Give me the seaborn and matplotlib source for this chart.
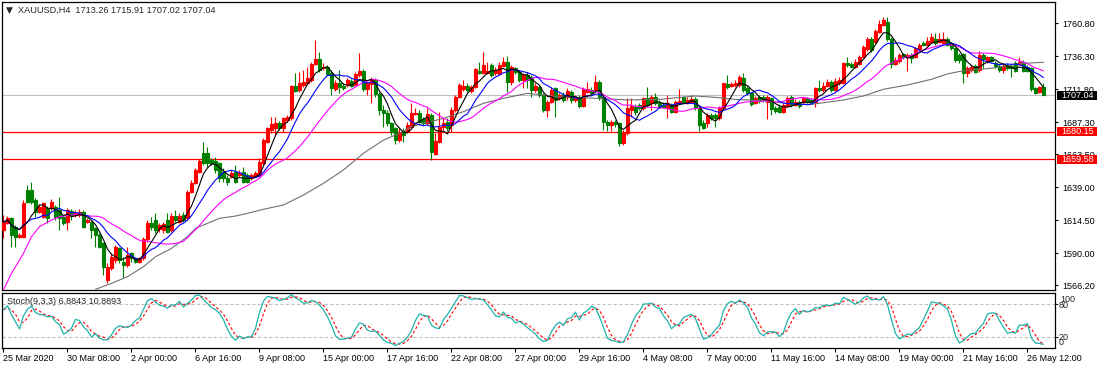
import numpy as np
import pandas as pd
import matplotlib
matplotlib.use("Agg")
import matplotlib.pyplot as plt
import matplotlib.transforms as mtransforms
from matplotlib.patches import Rectangle
import seaborn as sns

sns.set_style("white")
plt.rcParams["font.family"] = ["Liberation Sans", "DejaVu Sans"]

# XAUUSD H4 candles (bar 0 = 25 Mar 2020 00:00)
opens = [
    1607.1, 1612.6, 1615.8, 1609.6, 1601.7, 1602.2, 1636.8, 1636.8, 1629.4, 1620.7,
    1617.0, 1623.2, 1623.2, 1624.5, 1622.0, 1617.0, 1613.3, 1621.5, 1618.3, 1618.3,
    1620.7, 1613.3, 1613.3, 1608.4, 1603.4, 1597.2, 1570.0, 1578.7, 1584.9, 1593.5,
    1583.6, 1581.2, 1589.8, 1586.1, 1583.6, 1586.1, 1600.2, 1612.6, 1614.6, 1607.6,
    1607.1, 1614.6, 1607.1, 1617.5, 1613.3, 1618.3, 1615.8, 1635.6, 1642.3, 1650.4,
    1664.5, 1664.5, 1659.1, 1658.6, 1656.6, 1650.4, 1645.5, 1646.7, 1650.4, 1647.9,
    1650.4, 1647.9, 1645.5, 1647.2, 1647.9, 1656.6,
    1672.7, 1681.4, 1682.6, 1686.3, 1682.6, 1688.8, 1690.0, 1714.0, 1711.1, 1714.8,
    1716.0, 1718.5, 1730.4, 1733.8, 1727.2, 1728.4, 1723.5, 1711.6, 1716.5, 1714.0,
    1714.8, 1718.0, 1714.8, 1722.2, 1725.4, 1711.6, 1715.5, 1718.5, 1708.1, 1696.2,
    1693.8, 1686.3, 1682.6, 1673.9, 1680.9, 1680.1, 1683.9, 1693.3, 1693.8, 1689.3,
    1686.3, 1692.5, 1663.6, 1672.7, 1683.4, 1687.6, 1685.1, 1696.2, 1706.1, 1711.6,
    1714.0, 1710.6, 1713.1, 1725.4, 1723.9, 1723.9, 1729.6, 1723.5, 1723.0, 1728.9,
    1732.1, 1717.3, 1727.2, 1724.7, 1718.5, 1722.2,
    1720.5, 1711.1, 1713.1, 1707.4, 1696.2, 1702.4, 1712.3, 1704.9, 1707.4, 1705.6,
    1709.8, 1703.7, 1706.1, 1699.2, 1709.8, 1711.1, 1711.1, 1717.3, 1706.1, 1687.6,
    1685.1, 1687.6, 1686.3, 1671.5, 1678.9, 1696.2, 1698.7, 1699.9, 1697.5, 1704.9,
    1701.2, 1706.1, 1701.2, 1699.9, 1697.5, 1699.9, 1695.0, 1701.2, 1705.6, 1701.7,
    1702.4, 1704.1, 1697.5, 1686.3, 1686.3, 1692.5, 1692.5, 1690.0, 1697.5, 1715.5,
    1714.0, 1714.8, 1714.8, 1719.7, 1712.3, 1708.6, 1701.7, 1705.6, 1705.6, 1702.4,
    1704.9, 1697.5, 1698.7, 1695.0, 1699.2, 1705.6,
    1699.9, 1702.4, 1702.4, 1704.9, 1703.7, 1702.4, 1712.3, 1711.1, 1714.0, 1717.3,
    1711.1, 1716.0, 1716.5, 1731.4, 1730.4, 1728.4, 1730.4, 1735.3, 1741.3, 1748.7,
    1747.0, 1754.4, 1759.3, 1761.8, 1748.7, 1730.4, 1732.9, 1737.8, 1735.3, 1737.1,
    1735.3, 1741.3, 1746.2, 1744.5, 1747.0, 1748.7, 1747.0, 1746.2, 1748.7, 1746.2,
    1742.0, 1737.1, 1737.8, 1723.9, 1725.9, 1728.9, 1725.9, 1737.1, 1733.4, 1735.3,
    1731.4, 1728.9, 1725.9, 1729.6, 1728.9, 1731.4, 1730.4, 1732.1, 1728.4, 1727.2,
    1712.3, 1709.8, 1713.26,
]
highs = [
    1618.3, 1617.5, 1617.0, 1610.8, 1604.7, 1629.4, 1640.5, 1643.0, 1630.6, 1626.4,
    1628.2, 1625.0, 1629.9, 1625.7, 1631.9, 1618.3, 1623.2, 1622.5, 1622.0, 1622.5,
    1622.0, 1615.8, 1614.6, 1609.6, 1604.7, 1598.5, 1582.4, 1589.8, 1596.0, 1594.8,
    1587.3, 1594.8, 1591.0, 1587.3, 1587.3, 1601.7, 1614.6, 1617.0, 1619.5, 1612.6,
    1613.3, 1619.5, 1619.5, 1622.0, 1619.5, 1620.7, 1636.8, 1644.3, 1652.9, 1659.6,
    1672.7, 1669.0, 1660.3, 1661.5, 1657.9, 1652.9, 1647.9, 1651.7, 1655.4, 1651.7,
    1654.1, 1649.2, 1649.2, 1651.2, 1660.3, 1675.2,
    1683.9, 1691.3, 1691.3, 1688.3, 1691.3, 1692.5, 1714.8, 1723.5, 1724.7, 1725.9,
    1728.4, 1732.1, 1748.2, 1739.5, 1730.9, 1729.6, 1725.9, 1718.5, 1725.9, 1716.0,
    1719.7, 1719.0, 1724.7, 1738.8, 1726.4, 1717.3, 1720.5, 1719.7, 1709.8, 1699.9,
    1696.2, 1687.6, 1683.9, 1682.6, 1682.6, 1687.6, 1701.7, 1697.5, 1696.2, 1691.3,
    1697.5, 1693.8, 1678.9, 1695.0, 1690.0, 1690.0, 1698.7, 1707.4, 1716.0, 1718.5,
    1716.0, 1714.8, 1727.2, 1732.1, 1739.5, 1732.1, 1730.9, 1728.4, 1732.1, 1735.8,
    1736.3, 1729.6, 1728.4, 1725.9, 1723.9, 1724.7,
    1722.2, 1716.0, 1714.8, 1708.6, 1703.7, 1713.1, 1713.6, 1709.1, 1709.8, 1712.3,
    1711.1, 1707.4, 1707.4, 1713.1, 1717.3, 1713.1, 1722.2, 1718.5, 1707.4, 1688.8,
    1688.8, 1688.8, 1687.6, 1681.4, 1704.9, 1704.9, 1700.7, 1701.2, 1706.1, 1713.1,
    1707.4, 1708.6, 1703.7, 1702.4, 1707.4, 1701.2, 1703.7, 1711.6, 1706.6, 1706.1,
    1707.4, 1705.6, 1698.7, 1688.8, 1693.8, 1693.8, 1693.8, 1699.2, 1716.5, 1722.2,
    1717.3, 1718.5, 1722.2, 1723.9, 1714.0, 1709.8, 1706.6, 1707.4, 1707.4, 1707.4,
    1706.1, 1699.2, 1700.7, 1701.2, 1706.6, 1707.4,
    1704.1, 1703.7, 1706.1, 1706.1, 1704.9, 1713.6, 1718.5, 1717.3, 1719.0, 1718.5,
    1719.7, 1720.9, 1732.1, 1735.8, 1732.1, 1733.8, 1737.1, 1744.5, 1750.2, 1750.2,
    1756.1, 1763.0, 1765.5, 1765.0, 1750.2, 1735.3, 1738.8, 1738.8, 1738.3, 1738.3,
    1743.3, 1746.2, 1747.7, 1750.7, 1753.2, 1753.2, 1753.2, 1754.4, 1750.2, 1747.0,
    1743.3, 1738.3, 1738.8, 1728.9, 1729.6, 1730.4, 1740.3, 1738.3, 1736.3, 1736.3,
    1732.9, 1730.4, 1730.4, 1731.4, 1730.4, 1732.6, 1735.3, 1733.4, 1729.6, 1728.4,
    1713.6, 1714.0, 1715.91,
]
lows = [
    1600.9, 1611.6, 1594.8, 1594.8, 1600.9, 1601.7, 1626.9, 1626.4, 1617.0, 1619.5,
    1615.8, 1612.1, 1622.0, 1614.6, 1607.1, 1610.8, 1607.1, 1614.6, 1617.0, 1617.0,
    1608.4, 1612.1, 1600.9, 1594.8, 1593.5, 1573.7, 1567.5, 1577.4, 1582.4, 1582.4,
    1571.2, 1579.9, 1583.6, 1582.4, 1582.4, 1584.9, 1598.5, 1607.1, 1604.7, 1605.9,
    1604.7, 1604.7, 1605.9, 1613.3, 1612.1, 1613.3, 1614.6, 1634.4, 1641.3, 1649.2,
    1655.4, 1654.1, 1655.4, 1649.2, 1643.0, 1643.0, 1640.5, 1645.5, 1641.8, 1646.7,
    1641.8, 1641.8, 1644.3, 1646.2, 1646.7, 1655.4,
    1671.5, 1678.9, 1677.7, 1681.4, 1680.1, 1687.6, 1688.8, 1709.8, 1709.8, 1713.1,
    1714.8, 1717.3, 1729.6, 1724.7, 1725.9, 1721.5, 1707.4, 1710.6, 1708.6, 1711.1,
    1713.6, 1713.1, 1714.0, 1721.0, 1710.6, 1707.4, 1701.2, 1706.1, 1692.5, 1683.9,
    1684.4, 1677.7, 1671.0, 1672.7, 1672.7, 1678.9, 1682.6, 1692.5, 1686.3, 1685.1,
    1685.1, 1659.1, 1662.8, 1671.5, 1681.4, 1680.9, 1680.1, 1695.0, 1704.9, 1710.6,
    1709.8, 1709.1, 1712.3, 1723.0, 1723.0, 1723.0, 1721.0, 1722.2, 1722.2, 1728.4,
    1709.8, 1714.8, 1723.0, 1717.3, 1712.3, 1712.3,
    1705.6, 1709.8, 1706.1, 1695.0, 1691.3, 1701.2, 1691.3, 1703.7, 1702.4, 1703.7,
    1701.2, 1702.4, 1697.5, 1698.2, 1708.6, 1708.1, 1709.8, 1703.7, 1681.4, 1680.9,
    1680.9, 1683.9, 1669.8, 1670.2, 1677.7, 1691.3, 1692.5, 1696.2, 1696.2, 1698.7,
    1696.2, 1699.9, 1697.5, 1697.5, 1690.0, 1693.8, 1693.8, 1700.7, 1701.2, 1700.7,
    1701.2, 1696.2, 1680.9, 1681.9, 1683.4, 1688.8, 1683.9, 1688.8, 1696.2, 1711.6,
    1713.1, 1713.6, 1713.6, 1709.8, 1707.4, 1699.2, 1700.7, 1701.7, 1702.4, 1689.3,
    1692.5, 1693.8, 1693.8, 1693.8, 1698.2, 1698.7,
    1699.2, 1697.5, 1700.7, 1701.2, 1700.7, 1698.7, 1709.8, 1709.8, 1713.1, 1709.8,
    1710.6, 1714.8, 1715.5, 1728.4, 1727.2, 1727.2, 1729.6, 1734.6, 1740.3, 1739.5,
    1746.2, 1753.6, 1758.6, 1747.7, 1727.2, 1729.6, 1731.4, 1733.8, 1725.4, 1730.9,
    1734.6, 1740.3, 1743.8, 1743.8, 1746.2, 1744.5, 1746.2, 1745.2, 1743.8, 1740.8,
    1732.1, 1730.9, 1716.5, 1720.5, 1724.7, 1723.9, 1724.7, 1727.2, 1731.4, 1731.9,
    1727.2, 1724.7, 1723.5, 1725.9, 1720.9, 1724.7, 1729.6, 1724.7, 1724.7, 1710.6,
    1708.1, 1709.1, 1707.02,
]
closes = [
    1613.1, 1615.8, 1603.4, 1602.2, 1603.4, 1626.9, 1628.2, 1628.2, 1620.7, 1624.5,
    1626.9, 1615.8, 1628.2, 1617.0, 1615.8, 1612.1, 1622.0, 1618.3, 1620.0, 1620.7,
    1609.6, 1614.6, 1607.1, 1603.4, 1594.8, 1579.9, 1579.9, 1587.3, 1594.8, 1584.9,
    1581.2, 1588.6, 1586.1, 1583.6, 1586.1, 1600.2, 1612.6, 1609.6, 1607.1, 1610.8,
    1611.6, 1605.9, 1617.5, 1614.6, 1617.5, 1614.6, 1635.6, 1642.3, 1651.7, 1658.6,
    1656.6, 1656.6, 1656.6, 1651.7, 1645.5, 1645.5, 1643.0, 1649.2, 1643.0, 1649.7,
    1643.0, 1643.0, 1647.9, 1649.7, 1657.9, 1673.9,
    1682.6, 1685.8, 1686.3, 1682.6, 1690.0, 1691.3, 1714.0, 1710.6, 1716.0, 1717.3,
    1719.7, 1730.4, 1733.8, 1725.9, 1728.4, 1723.0, 1712.3, 1716.0, 1713.6, 1712.3,
    1718.5, 1714.0, 1723.0, 1725.4, 1711.6, 1716.0, 1719.0, 1708.1, 1696.2, 1693.8,
    1686.3, 1680.1, 1673.9, 1680.1, 1677.7, 1685.1, 1693.8, 1694.3, 1687.6, 1686.3,
    1693.3, 1665.3, 1673.5, 1683.9, 1686.8, 1682.6, 1696.2, 1706.1, 1714.8, 1714.0,
    1711.1, 1713.1, 1726.4, 1723.9, 1729.6, 1725.4, 1722.2, 1725.9, 1729.6, 1732.1,
    1717.3, 1728.4, 1724.7, 1718.5, 1722.2, 1718.5,
    1711.1, 1714.0, 1707.4, 1696.2, 1702.4, 1711.1, 1703.7, 1707.4, 1703.7, 1710.6,
    1703.7, 1706.1, 1699.2, 1711.6, 1711.6, 1709.1, 1717.3, 1706.1, 1687.6, 1685.1,
    1687.6, 1685.8, 1671.5, 1679.4, 1697.5, 1699.2, 1695.0, 1697.5, 1704.9, 1699.9,
    1706.1, 1701.2, 1698.7, 1698.7, 1701.7, 1695.0, 1702.4, 1703.2, 1702.4, 1703.7,
    1704.1, 1697.5, 1685.1, 1682.6, 1692.5, 1690.0, 1690.0, 1697.5, 1716.0, 1713.1,
    1715.3, 1716.5, 1720.5, 1711.1, 1708.6, 1700.7, 1704.9, 1703.2, 1703.7, 1705.6,
    1696.7, 1695.7, 1695.0, 1699.9, 1704.9, 1699.9,
    1702.4, 1699.2, 1704.9, 1702.4, 1701.7, 1712.3, 1711.1, 1714.0, 1717.3, 1711.1,
    1718.0, 1718.5, 1730.9, 1729.6, 1728.4, 1732.1, 1735.8, 1742.8, 1748.7, 1740.8,
    1755.1, 1760.1, 1763.0, 1748.7, 1730.4, 1733.4, 1737.1, 1735.3, 1737.1, 1734.6,
    1742.0, 1744.5, 1744.5, 1747.7, 1750.2, 1745.7, 1748.7, 1748.7, 1744.5, 1742.0,
    1733.4, 1733.4, 1723.9, 1727.2, 1728.4, 1724.7, 1737.1, 1733.8, 1735.3, 1732.9,
    1728.9, 1725.9, 1728.9, 1727.2, 1727.2, 1725.4, 1732.1, 1725.4, 1725.4, 1711.6,
    1708.6, 1713.1, 1707.04,
]

# start of the magenta MA (its history lies before bar 0)
ma21_head_bars = [0, 2, 5, 7, 9, 12, 14, 17, 19]
ma21_head = [1562.6, 1575.0, 1589.8, 1602.2, 1609.6, 1614.6, 1617.0, 1618.3, 1618.8]
# gray slow MA
slow_ma_bars = [23, 27, 31, 35, 38, 42, 46, 48, 52, 54, 58, 61, 65, 70, 75, 80, 85, 90,
                95, 99, 102, 105, 110, 115, 120, 125, 131, 139, 148, 156, 164, 173, 178,
                183, 190, 197, 202, 210, 215, 220, 226, 232, 236, 240, 247, 255, 260]
slow_ma = [1563.1, 1567.5, 1572.5, 1579.9, 1587.3, 1593.5, 1602.2, 1608.4, 1613.3, 1615.8,
           1617.5, 1619.5, 1622.5, 1625.7, 1633.1, 1641.8, 1651.7, 1664.1, 1673.9, 1678.9,
           1683.9, 1686.3, 1690.0, 1695.0, 1701.2, 1704.9, 1708.6, 1706.1, 1704.9, 1703.7,
           1704.1, 1706.6, 1705.6, 1704.1, 1703.2, 1700.7, 1700.4, 1703.7, 1706.6, 1711.6,
           1714.8, 1719.0, 1723.0, 1725.4, 1727.2, 1730.9, 1731.6]

date_labels = ["25 Mar 2020", "30 Mar 08:00", "2 Apr 00:00", "6 Apr 16:00", "9 Apr 08:00",
               "15 Apr 00:00", "17 Apr 16:00", "22 Apr 08:00", "27 Apr 00:00", "29 Apr 16:00",
               "4 May 08:00", "7 May 00:00", "11 May 16:00", "14 May 08:00", "19 May 00:00",
               "21 May 16:00", "26 May 12:00"]
price_ticks = [1760.80, 1736.30, 1711.80, 1687.30, 1663.50, 1639.00, 1614.50, 1590.00, 1566.20]
levels = [1680.15, 1659.58]
last_price = 1707.04

W, H = 1101, 369
n = len(closes)
bars = np.arange(n)
df = pd.DataFrame({"bar": bars, "open": opens, "high": highs, "low": lows, "close": closes})
df["ma5"] = df["close"].rolling(5, min_periods=1).mean()
df["ma10"] = df["close"].rolling(10, min_periods=1).mean()
ma21 = df["close"].rolling(21).mean()
magenta = pd.concat([pd.DataFrame({"bar": ma21_head_bars, "v": ma21_head}),
                     pd.DataFrame({"bar": bars[20:], "v": ma21.values[20:]})])
gray = pd.DataFrame({"bar": slow_ma_bars, "v": slow_ma})

# stochastic 9,3,3
ll = df["low"].rolling(9, min_periods=1).min()
hh = df["high"].rolling(9, min_periods=1).max()
df["k"] = 100 * (df["close"] - ll).rolling(3, min_periods=1).sum() / (hh - ll).rolling(3, min_periods=1).sum()
df["d"] = df["k"].rolling(3, min_periods=1).mean()

fig = plt.figure(figsize=(W / 100, H / 100), dpi=100)
ax = fig.add_axes([2 / W, 1 - 290 / H, 1053 / W, 288 / H])
ax2 = fig.add_axes([2 / W, 1 - 348 / H, 1053 / W, 55.5 / H])
xlim = (-0.375, 262.9)

# candles: red = up, green = down
up = df["close"] >= df["open"]
col = np.where(up, "#FF0000", "#008000")
ax.vlines(bars, df["low"], df["high"], colors=col, lw=0.8, zorder=2)
body_lo = np.minimum(df["open"], df["close"])
body_h = np.abs(df["close"] - df["open"])
ax.bar(bars, body_h, bottom=body_lo, width=0.55, color=col, edgecolor=col, linewidth=0.8, zorder=3)

ax.axhline(last_price, color="#C0C0C0", lw=0.8, zorder=1)
for lv in levels:
    ax.axhline(lv, color="#FF0000", lw=0.9, zorder=1)

sns.lineplot(data=gray, x="bar", y="v", ax=ax, color="#707070", lw=0.8, zorder=4)
sns.lineplot(data=magenta, x="bar", y="v", ax=ax, color="#FF00FF", lw=0.8, zorder=4)
sns.lineplot(data=df, x="bar", y="ma10", ax=ax, color="#0000FF", lw=0.8, zorder=5)
sns.lineplot(data=df, x="bar", y="ma5", ax=ax, color="#000000", lw=0.8, zorder=5)

ax.set_xlim(*xlim)
ax.set_ylim(1562.6, 1776.4)
ax.set_xticks([])
ax.yaxis.tick_right()
ax.set_yticks(price_ticks)
ax.set_yticklabels([f"{p:.2f}" for p in price_ticks])
ax.tick_params(axis="y", right=True, left=False, length=2.5, width=0.8, pad=2.5, labelsize=6.5, colors="black")
ax.set_xlabel("")
ax.set_ylabel("")

# stochastic panel
ax2.axhline(80, color="#C0C0C0", lw=0.8, ls=(0, (3, 2)))
ax2.axhline(20, color="#C0C0C0", lw=0.8, ls=(0, (3, 2)))
sns.lineplot(data=df, x="bar", y="d", ax=ax2, color="#FF0000", lw=0.8, linestyle=(0, (2.5, 2)))
sns.lineplot(data=df, x="bar", y="k", ax=ax2, color="#20B2AA", lw=0.9)
ax2.set_xlim(*xlim)
ax2.set_ylim(0, 102)
ax2.set_xlabel("")
ax2.set_ylabel("")
ax2.yaxis.tick_right()
ax2.set_yticks([20, 80])
ax2.set_yticklabels([])
ax2.tick_params(axis="y", right=True, left=False, length=2.5, width=0.8)
ax2.set_xticks(np.arange(0, n, 16)[:len(date_labels)])
ax2.set_xticklabels(date_labels, ha="left")
ax2.tick_params(axis="x", bottom=True, length=3, width=0.8, pad=1.5, labelsize=6.5, colors="black")

for a in (ax, ax2):
    for s in a.spines.values():
        s.set_color("black")
        s.set_linewidth(0.9)

# texts
fig.text(6 / W, 1 - 10.5 / H, "\u25bc", fontsize=6.5, family="DejaVu Sans", va="center")
fig.text(18 / W, 1 - 10.5 / H, "XAUUSD,H4  1713.26 1715.91 1707.02 1707.04", fontsize=6.6, va="center")
fig.text(7 / W, 1 - 301.5 / H, "Stoch(9,3,3) 6.8843 10.8893", fontsize=6.5, va="center")
for txt, x, y in [("100", 1060, 299.3), ("80", 1059, 305), ("20", 1059, 337.7), ("0", 1059, 342.3)]:
    fig.text(x / W, 1 - y / H, txt, fontsize=6.5, va="center")

# price boxes on the right scale
blend = mtransforms.blended_transform_factory(fig.transFigure, ax.transData)
box_h = 9.5 / (288 / (1776.4 - 1562.6))
for p, fc in [(last_price, "black"), (levels[0], "#FF0000"), (levels[1], "#FF0000")]:
    fig.add_artist(Rectangle((1057 / W, p - box_h / 2), 40 / W, box_h, transform=blend,
                             facecolor=fc, edgecolor="none", zorder=5))
    fig.add_artist(matplotlib.text.Text(1061 / W, p, f"{p:.2f}", transform=blend, color="white",
                                        fontsize=6.5, va="center", ha="left", zorder=6))

fig.savefig("out.png", dpi=100)
